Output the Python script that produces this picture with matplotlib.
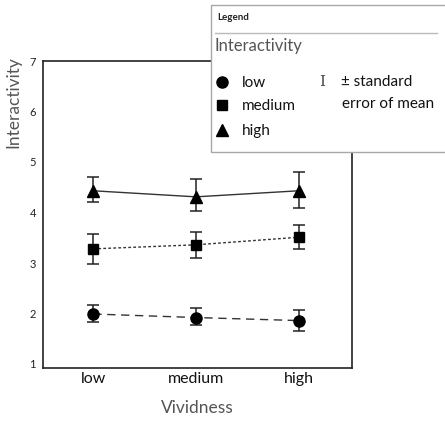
import matplotlib
matplotlib.use("Agg")
import matplotlib.pyplot as plt
from matplotlib.patches import Rectangle
from matplotlib.lines import Line2D

plt.rcParams['font.family'] = ['Lato', 'DejaVu Sans']

# interactivity means by vividness, one series per interactivity level
vividness = ['low', 'medium', 'high']
levels = ['low', 'medium', 'high']
means = {
    'low':    [1.99, 1.92, 1.86],
    'medium': [3.28, 3.36, 3.51],
    'high':   [4.43, 4.31, 4.43],
}
err_lo = {
    'low':    [1.83, 1.77, 1.66],
    'medium': [2.99, 3.10, 3.27],
    'high':   [4.21, 4.02, 4.08],
}
err_hi = {
    'low':    [2.16, 2.10, 2.06],
    'medium': [3.57, 3.62, 3.75],
    'high':   [4.71, 4.66, 4.81],
}
markers = {'low': 'o', 'medium': 's', 'high': '^'}
msizes = {'low': 8, 'medium': 7.5, 'high': 9}
dashes = {'low': (6, 4), 'medium': (2, 1.6), 'high': ()}

W, H = 445, 422
fig = plt.figure(figsize=(W / 100, H / 100), dpi=100)


def px(x, y):
    # pixel position (origin top-left) -> figure fraction
    return x / W, 1 - y / H


ax = fig.add_axes([43 / W, 1 - 368 / H, 309 / W, 307 / H])
xs = list(range(len(vividness)))
for lvl in levels:
    m = means[lvl]
    lo = [a - b for a, b in zip(m, err_lo[lvl])]
    hi = [b - a for a, b in zip(m, err_hi[lvl])]
    ax.errorbar(xs, m, yerr=[lo, hi], fmt='none', ecolor='#222222',
                elinewidth=1.1, capsize=4.5, capthick=1.1, zorder=2)
    line, = ax.plot(xs, m, color='#333333', lw=1.0, zorder=1)
    if dashes[lvl]:
        line.set_dashes(dashes[lvl])
    ax.plot(xs, m, linestyle='none', marker=markers[lvl], ms=msizes[lvl],
            color='black', zorder=3)

ax.set_xlim(-0.49, 2.52)
ax.set_ylim(1 - 4 / 50.5, 7)
ax.set_yticks([1, 2, 3, 4, 5, 6, 7])
ax.set_xticks(xs)
ax.set_xticklabels(vividness, fontsize=11.5, color='#111111')
ax.tick_params(axis='y', length=0, pad=5, labelsize=8, labelcolor='#222222')
ax.tick_params(axis='x', length=0, pad=3)
for sp in ax.spines.values():
    sp.set_linewidth(1.2)
    sp.set_color('#222222')

fig.text(*px(13, 56), 'Interactivity', rotation=90, ha='center', va='top',
         fontsize=12.5, color='#555555')
fig.text(*px(197, 408), 'Vividness', ha='center', va='center',
         fontsize=12.5, color='#555555')

# legend panel in the top right corner, open on the right side
left, top, bottom = 210.5, 5, 151.5
fig.patches.append(Rectangle(px(left, bottom), (W - left) / W,
                             (bottom - top) / H, transform=fig.transFigure,
                             facecolor='white', edgecolor='none', zorder=5))
fig.lines.append(Line2D([W / W, left / W, left / W, W / W],
                        [1 - top / H, 1 - top / H, 1 - bottom / H,
                         1 - bottom / H],
                        transform=fig.transFigure, color='#a8a8a8', lw=1.0,
                        zorder=6))
fig.text(*px(217, 18), 'Legend', ha='left', va='center', fontsize=7,
         fontweight='bold', color='#222222', zorder=6)
fig.lines.append(Line2D([215 / W, 437 / W], [1 - 33 / H, 1 - 33 / H],
                        transform=fig.transFigure, color='#bbbbbb', lw=1.0,
                        zorder=6))
fig.text(*px(215, 46), 'Interactivity', ha='left', va='center', fontsize=12,
         color='#555555', zorder=6)
for lvl, y in zip(levels, [82, 105, 130]):
    fig.lines.append(Line2D([222 / W], [1 - y / H], marker=markers[lvl],
                            ms=msizes[lvl], color='black',
                            linestyle='none', transform=fig.transFigure,
                            zorder=6))
    fig.text(*px(242, y + 1), lvl, ha='left', va='center', fontsize=11,
             color='#111111', zorder=6)
fig.text(*px(322, 82), 'I', ha='center', va='center', fontsize=11,
         color='#444444', family='DejaVu Serif', zorder=6)
fig.text(*px(341, 82), '\u00b1 standard', ha='left', va='center',
         fontsize=11, color='#111111', zorder=6)
fig.text(*px(342, 104), 'error of mean', ha='left', va='center',
         fontsize=11, color='#111111', zorder=6)

fig.savefig('out.png', dpi=100)
